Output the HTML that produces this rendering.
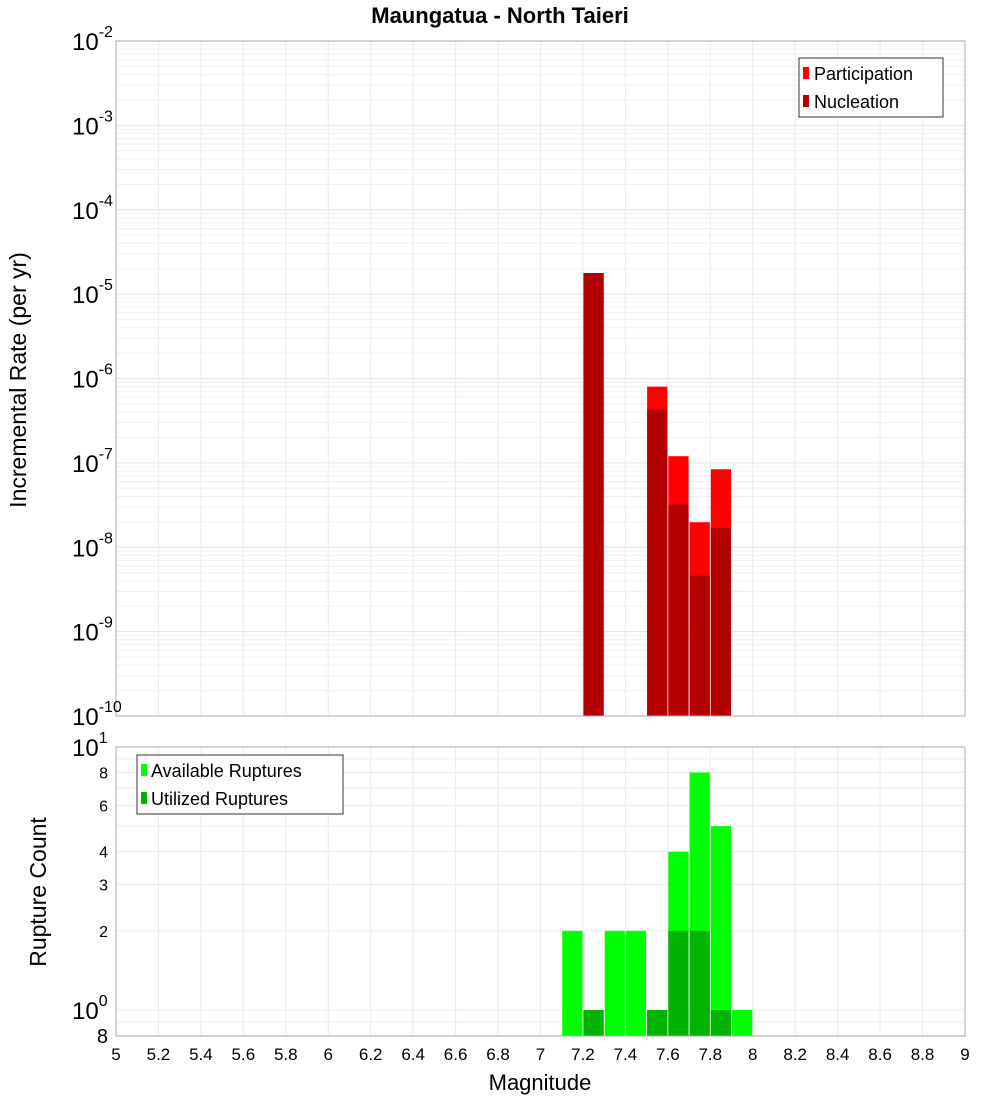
<!DOCTYPE html>
<html><head><meta charset="utf-8"><style>body{margin:0;background:#fff}svg{display:block;font-family:"Liberation Sans","DejaVu Sans",sans-serif}</style></head>
<body>
<svg id="c" width="1000" height="1100"></svg>
<script>
const mags=[7.15,7.25,7.35,7.45,7.55,7.65,7.75,7.85,7.95];
const participation=[0,1.78e-5,0,0,8e-7,1.2e-7,1.98e-8,8.4e-8,0];
const nucleation=[0,1.78e-5,0,0,4.3e-7,3.2e-8,4.6e-9,1.68e-8,0];
const available=[2,1,2,2,1,4,8,5,1];
const utilized=[0,1,0,0,1,2,2,1,0];
const xTicks=[5,5.2,5.4,5.6,5.8,6,6.2,6.4,6.6,6.8,7,7.2,7.4,7.6,7.8,8,8.2,8.4,8.6,8.8,9];
const topExp=[-10,-9,-8,-7,-6,-5,-4,-3,-2];
const botTicks=[2,3,4,6,8];
const svg=document.getElementById('c');const NS='http://www.w3.org/2000/svg';
function el(t,a,p,txt){const e=document.createElementNS(NS,t);for(const k in a)e.setAttribute(k,a[k]);if(txt!==undefined)e.textContent=txt;(p||svg).appendChild(e);return e;}
const L=116,R=965;
const X=v=>L+(v-5)/4*(R-L);
const T0=41,T1=716;const YT=v=>T1-(Math.log10(v)+10)/8*(T1-T0);
const B0=747,B1=1036;const YB=v=>1010-Math.log10(v)*263;
const grid=el('g',{});
// top minor grid
for(let e=-10;e<-2;e++)for(let m=1;m<10;m++){const y=YT(m*Math.pow(10,e));el('line',{x1:L,x2:R,y1:y,y2:y,stroke:m==1?'#e4e4e4':'#f0f0f0'},grid);}
for(let m=8;m<=10;m++){}
[0.8,0.9,1,2,3,4,5,6,7,8,9].forEach(v=>{const y=YB(v);el('line',{x1:L,x2:R,y1:y,y2:y,stroke:'#ececec'},grid);});
xTicks.forEach(v=>{el('line',{x1:X(v),x2:X(v),y1:T0,y2:T1,stroke:'#ececec'},grid);el('line',{x1:X(v),x2:X(v),y1:B0,y2:B1,stroke:'#ececec'},grid);});
// top bars
const bw=(X(5.1)-X(5))-1;
mags.forEach((m,i)=>{if(participation[i]>0){const r=el('rect',{x:X(m)-bw/2,y:YT(participation[i]),width:bw,height:T1-YT(participation[i]),fill:'#ff0000'});}
if(nucleation[i]>0){const r=el('rect',{x:X(m)-bw/2,y:YT(nucleation[i]),width:bw,height:T1-YT(nucleation[i]),fill:'#b30000'});}
if(available[i]>0){const r=el('rect',{x:X(m)-bw/2,y:YB(available[i]),width:bw,height:B1-YB(available[i]),fill:'#00ff00'});}
if(utilized[i]>0){const r=el('rect',{x:X(m)-bw/2,y:YB(utilized[i]),width:bw,height:B1-YB(utilized[i]),fill:'#00b300'});}});
el('rect',{x:L,y:T0,width:R-L,height:T1-T0,fill:'none',stroke:'#aaa'});
el('rect',{x:L,y:B0,width:R-L,height:B1-B0,fill:'none',stroke:'#aaa'});
// top y labels
topExp.forEach(e=>{const y=YT(Math.pow(10,e));const t=el('text',{x:72,y:y+9,'font-size':24,fill:'#000'});
el('tspan',{},t,'10');el('tspan',{dy:-13,'font-size':16},t,String(e));});
botTicks.forEach(v=>{const t=el('text',{x:108,y:YB(v)+6,'font-size':16,'text-anchor':'end'},svg,String(v));});
[[1,1010],[10,747]].forEach(([v,y],i)=>{const t=el('text',{x:72,y:y+9,'font-size':24});el('tspan',{},t,'10');el('tspan',{dy:-13,'font-size':16},t,String(i));});
el('text',{x:108,y:1043,'font-size':20,'text-anchor':'end'},svg,'8');
xTicks.forEach(v=>{const t=el('text',{x:X(v),y:1060,'font-size':17,'text-anchor':'middle'},svg,String(v));});
el('text',{x:540,y:1090,'font-size':22,'text-anchor':'middle',},svg,'Magnitude');
el('text',{x:500,y:23,'font-size':22,'font-weight':'bold','text-anchor':'middle',},svg,'Maungatua - North Taieri');
el('text',{x:0,y:0,'font-size':23,'text-anchor':'middle',transform:'translate(26,380) rotate(-90)',},svg,'Incremental Rate (per yr)');
el('text',{x:0,y:0,'font-size':23,'text-anchor':'middle',transform:'translate(46,892) rotate(-90)',},svg,'Rupture Count');
// legends
const lg1=el('g',{});
el('rect',{x:799,y:58,width:144,height:59,fill:'#fff',stroke:'#333'},lg1);
el('rect',{x:803,y:67,width:6,height:12,fill:'#ff0000'},lg1);el('text',{x:814,y:80,'font-size':18},lg1,'Participation');
el('rect',{x:803,y:95,width:6,height:12,fill:'#b30000'},lg1);el('text',{x:814,y:108,'font-size':18},lg1,'Nucleation');
const lg2=el('g',{});
el('rect',{x:137,y:755,width:206,height:59,fill:'#fff',stroke:'#333'},lg2);
el('rect',{x:141,y:764,width:6,height:12,fill:'#00ff00'},lg2);el('text',{x:151,y:777,'font-size':18},lg2,'Available Ruptures');
el('rect',{x:141,y:792,width:6,height:12,fill:'#00b300'},lg2);el('text',{x:151,y:805,'font-size':18},lg2,'Utilized Ruptures');
</script>
</body></html>
